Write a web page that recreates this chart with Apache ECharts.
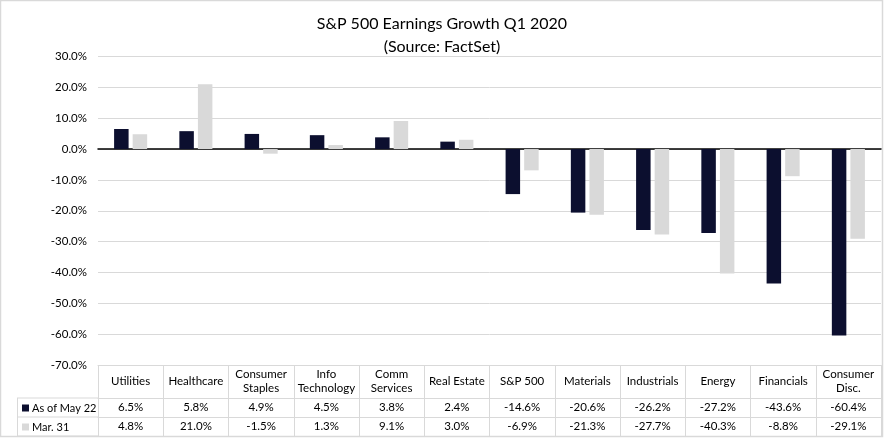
<!DOCTYPE html>
<html>
<head>
<meta charset="utf-8">
<script src="https://cdn.jsdelivr.net/npm/echarts@6/dist/echarts.min.js"></script>
<style>
html,body{margin:0;padding:0;background:#fff;}
#c{width:884px;height:438px;}
</style>
</head>
<body>
<div id="c"></div>
<script>
const categories = ['Utilities','Healthcare','Consumer\nStaples','Info\nTechnology','Comm\nServices','Real Estate','S&P 500','Materials','Industrials','Energy','Financials','Consumer\nDisc.'];
const seriesNames = ['As of May 22','Mar. 31'];
const asOfMay22 = [6.5, 5.8, 4.9, 4.5, 3.8, 2.4, -14.6, -20.6, -26.2, -27.2, -43.6, -60.4];
const mar31 = [4.8, 21.0, -1.5, 1.3, 9.1, 3.0, -6.9, -21.3, -27.7, -40.3, -8.8, -29.1];
const yTicks = {min: -70, max: 30, interval: 10};

const FONT = 'Lato, "Open Sans", sans-serif';
const GRID_L = 98, GRID_R = 881, GRID_T = 56.5, GRID_B = 365;
const TABLE_COLOR = '#d9d9d9';
const fmt = v => v.toFixed(1) + '%';

const chart = echarts.init(document.getElementById('c'), null, {renderer: 'canvas'});

function valueAxis(offset, values) {
  return {
    type: 'category', data: categories, position: 'bottom', offset: offset,
    axisLine: {show: true, onZero: false, lineStyle: {color: TABLE_COLOR, width: 1}},
    axisTick: {show: false},
    axisLabel: values ? {
      show: true, interval: 0, margin: 9.5, verticalAlign: 'middle',
      fontFamily: FONT, fontSize: 11.5, color: '#000',
      formatter: (v, i) => fmt(values[i])
    } : {show: false},
    splitLine: {show: false}
  };
}

const option = {
  animation: false,
  backgroundColor: '#fff',
  title: {
    text: 'S&P 500 Earnings Growth Q1 2020\n(Source: FactSet)',
    left: 'center', top: 7,
    textStyle: {fontFamily: FONT, fontSize: 16, fontWeight: 'normal', color: '#000', lineHeight: 23.5}
  },
  legend: {
    orient: 'vertical', left: 22, top: 401, padding: 0,
    itemWidth: 7, itemHeight: 7, itemGap: 5, icon: 'rect',
    textStyle: {fontFamily: FONT, fontSize: 11, color: '#000', lineHeight: 14, padding: [0,0,0,-2]},
    data: seriesNames
  },
  grid: {left: GRID_L, right: 884 - GRID_R, top: GRID_T, bottom: 438 - GRID_B, containLabel: false},
  xAxis: [
    {
      type: 'category', data: categories,
      axisLine: {show: true, onZero: true, lineStyle: {color: '#000', width: 1.5}},
      axisTick: {show: false}, axisLabel: {show: false}, splitLine: {show: false}
    },
    {
      type: 'category', data: categories, position: 'bottom', offset: 0,
      axisLine: {show: true, onZero: false, lineStyle: {color: TABLE_COLOR, width: 1}},
      axisTick: {show: true, alignWithLabel: false, interval: 0, length: 71, inside: false, lineStyle: {color: TABLE_COLOR, width: 1}},
      axisLabel: {show: true, interval: 0, margin: 16.5, verticalAlign: 'middle', lineHeight: 13.5,
        fontFamily: FONT, fontSize: 11.5, color: '#000'},
      splitLine: {show: false}
    },
    valueAxis(33, asOfMay22),
    valueAxis(52, mar31),
    valueAxis(71, null)
  ],
  yAxis: {
    type: 'value', min: yTicks.min, max: yTicks.max, interval: yTicks.interval,
    axisLine: {show: false}, axisTick: {show: false},
    axisLabel: {fontFamily: FONT, fontSize: 11.5, color: '#000', margin: 11, formatter: v => fmt(v)},
    splitLine: {lineStyle: {color: TABLE_COLOR, width: 1}}
  },
  series: [
    {name: seriesNames[0], type: 'bar', xAxisIndex: 0, data: asOfMay22, barWidth: 14.5, barGap: '28%',
      itemStyle: {color: '#0c0f2f'}},
    {name: seriesNames[1], type: 'bar', xAxisIndex: 0, data: mar31, barWidth: 14.5,
      itemStyle: {color: '#d9d9d9'}}
  ],
  graphic: [
    {type: 'rect', silent: true, shape: {x: 0.5, y: 0.5, width: 882, height: 436},
      style: {fill: null, stroke: TABLE_COLOR, lineWidth: 1.5}},
    {type: 'line', silent: true, shape: {x1: 17, y1: 398, x2: GRID_L, y2: 398}, style: {stroke: TABLE_COLOR, lineWidth: 1}},
    {type: 'line', silent: true, shape: {x1: 17, y1: 417, x2: GRID_L, y2: 417}, style: {stroke: TABLE_COLOR, lineWidth: 1}},
    {type: 'line', silent: true, shape: {x1: 17, y1: 436, x2: GRID_L, y2: 436}, style: {stroke: TABLE_COLOR, lineWidth: 1}},
    {type: 'line', silent: true, shape: {x1: 17.5, y1: 398, x2: 17.5, y2: 436}, style: {stroke: TABLE_COLOR, lineWidth: 1}}
  ]
};
chart.setOption(option);
</script>
</body>
</html>
